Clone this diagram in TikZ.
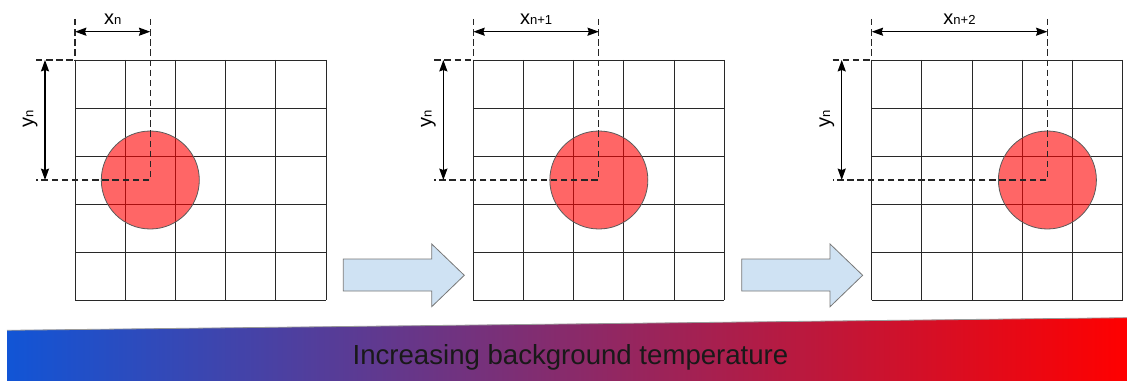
\documentclass[tikz,border=0pt]{standalone}
\usepackage{fontspec}
\setmainfont{Liberation Sans}
\usetikzlibrary{arrows.meta,calc}
\definecolor{gridcol}{RGB}{40,40,40}
\definecolor{blockfill}{RGB}{207,226,243}
\definecolor{blockline}{RGB}{120,120,120}
\definecolor{barblue}{RGB}{17,85,214}
\definecolor{barred}{RGB}{255,0,0}
\definecolor{circline}{RGB}{90,90,90}
\newcommand{\dimlbl}[2]{{\fontsize{15}{16}\selectfont #1}{\fontsize{9.8}{11}\selectfont #2}}
\tikzset{
  gridline/.style={draw=gridcol, line width=0.7pt},
  dashline/.style={draw=black!85, line width=0.85pt, dash pattern=on 4.8pt off 2.8pt},
  dimarrow/.style={draw=black, line width=1.15pt, {Stealth[length=8.5pt,width=6pt,inset=1pt]}-{Stealth[length=8.5pt,width=6pt,inset=1pt]}},
  blob/.style={circle, inner sep=0pt, minimum size=73.5pt, fill=red, fill opacity=0.6, draw=circline, draw opacity=1, line width=0.6pt},
  blockarrow/.style={fill=blockfill, draw=blockline, line width=0.6pt, line join=miter},
  dimlabel/.style={inner sep=0pt, anchor=base},
}
\begin{document}
\begin{tikzpicture}[x=0.75pt,y=-0.75pt]
\useasboundingbox (0,0) rectangle (1127,381);
% temperature bar
\shade[left color=barblue, right color=barred] (7,330.3) -- (1127,317.7) -- (1127,381) -- (7,381) -- cycle;
\draw[draw=black!40, line width=0.6pt] (7,330.3) -- (1127,317.7);
\node[inner sep=0pt, anchor=base, text=black!90] (temp) at (570.5,364) {\fontsize{20.7}{24}\selectfont Increasing background temperature};
% panels
\foreach \k/\sub in {0/n,1/n+1,2/n+2}{
  \begin{scope}[shift={(75+398.35*\k,0)}]
    \pgfmathsetmacro{\cx}{75.3+50.2*\k}
    \foreach \i in {0,...,5}{
      \draw[gridline] ({50.2*\i},60) -- ({50.2*\i},300);
      \draw[gridline] (0,{60+48*\i}) -- (251,{60+48*\i});
    }
    \node[blob] (c\k) at (\cx,180) {};
    \coordinate (cc\k) at (\cx,180);
    \coordinate (tl\k) at (0,60);
    \coordinate (ta\k) at (0,19);
    \coordinate (tc\k) at (\cx,19);
    \coordinate (hl\k) at (-39,60);
    \coordinate (cl\k) at (-39,180);
    \draw[dashline] (ta\k) -- (tl\k);
    \draw[dashline] (hl\k) -- (tl\k);
    \draw[dashline] (tc\k) -- (cc\k) -- (cl\k);
    \coordinate (xa\k) at (0,31.7);
    \coordinate (xb\k) at (\cx,31.7);
    \coordinate (ya\k) at (-30,60);
    \coordinate (yb\k) at (-30,180);
    \draw[dimarrow] (xa\k) -- (xb\k);
    \draw[dimarrow] (ya\k) -- (yb\k);
    \node[dimlabel] (lx\k) at ({\cx/2},24.3) {\dimlbl{x}{\sub}};
    \node[dimlabel, rotate=90] (ly\k) at (-41.7,119) {\dimlbl{y}{n}};
  \end{scope}
}
% block arrows
\foreach \j in {0,1}{
  \begin{scope}[shift={(398.35*\j,0)}]
    \filldraw[blockarrow] (343.3,259) -- (431.7,259) -- (431.7,244) -- (464.3,275.3) -- (431.7,306.7) -- (431.7,291) -- (343.3,291) -- cycle;
  \end{scope}
}
\end{tikzpicture}
\end{document}
